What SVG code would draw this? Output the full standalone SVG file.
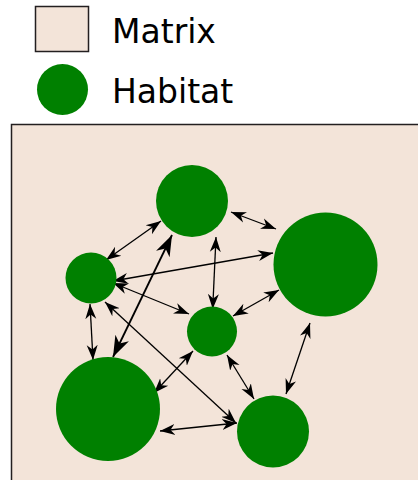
<svg xmlns="http://www.w3.org/2000/svg" width="418" height="480" viewBox="0 0 418 480">
  <style>
    .matrix { fill: #f3e4d9; stroke: #231f20; stroke-width: 1.5; }
    .hab { fill: #008000; }
    .lbl { font-family: "DejaVu Sans", sans-serif; font-size: 33px; fill: #000; }
    .edge { stroke: #000; stroke-width: 1.3; fill: none; marker-start: url(#ah); marker-end: url(#ah); }
    .edge.big { stroke-width: 1.8; marker-start: url(#ahb); marker-end: url(#ahb); }
  </style>
  <defs>
    <marker id="ah" markerUnits="userSpaceOnUse" markerWidth="18" markerHeight="14" viewBox="0 -7 18 14" refX="15" refY="0" orient="auto-start-reverse">
      <path d="M15,0 L0,-5.5 L4.5,0 L0,5.5 Z" fill="#000"/>
    </marker>
    <marker id="ahb" markerUnits="userSpaceOnUse" markerWidth="24" markerHeight="18" viewBox="0 -9 24 18" refX="21" refY="0" orient="auto-start-reverse">
      <path d="M21,0 L0,-7.5 L6,0 L0,7.5 Z" fill="#000"/>
    </marker>
  </defs>
  <rect width="418" height="480" fill="#ffffff"/>

  <g id="legend">
    <g id="legend-matrix">
      <rect class="matrix" x="35.5" y="6.5" width="53" height="45"/>
      <text class="lbl" x="112" y="43">Matrix</text>
    </g>
    <g id="legend-habitat">
      <circle class="hab" cx="62.5" cy="89.5" r="25.5"/>
      <text class="lbl" x="112" y="103">Habitat</text>
    </g>
  </g>

  <g id="matrix">
    <rect class="matrix" x="11.5" y="124.5" width="420" height="370"/>
  </g>

  <g id="connectors">
    <line class="edge" x1="161" y1="221" x2="106" y2="260"/>
    <line class="edge" x1="231" y1="212" x2="276" y2="229"/>
    <line class="edge" x1="216" y1="237" x2="212.7" y2="309"/>
    <line class="edge" x1="273" y1="253" x2="113" y2="281"/>
    <line class="edge" x1="113" y1="283" x2="189" y2="314"/>
    <line class="edge" x1="233" y1="316" x2="279" y2="290"/>
    <line class="edge" x1="90" y1="304" x2="93" y2="360"/>
    <line class="edge" x1="105" y1="302" x2="236" y2="423"/>
    <line class="edge big" x1="113" y1="357" x2="172" y2="235"/>
    <line class="edge" x1="154" y1="393" x2="193" y2="351"/>
    <line class="edge" x1="160" y1="431" x2="237" y2="423"/>
    <line class="edge" x1="227" y1="355" x2="254" y2="399"/>
    <line class="edge" x1="310" y1="323" x2="286" y2="394"/>
  </g>

  <g id="habitat-a"><circle class="hab" cx="192" cy="201" r="36"/></g>
  <g id="habitat-b"><circle class="hab" cx="91" cy="278" r="25.5"/></g>
  <g id="habitat-c"><circle class="hab" cx="325.5" cy="264.5" r="52"/></g>
  <g id="habitat-d"><circle class="hab" cx="212" cy="331.5" r="25"/></g>
  <g id="habitat-e"><circle class="hab" cx="108" cy="409" r="52"/></g>
  <g id="habitat-f"><circle class="hab" cx="273" cy="431.5" r="36"/></g>
</svg>
